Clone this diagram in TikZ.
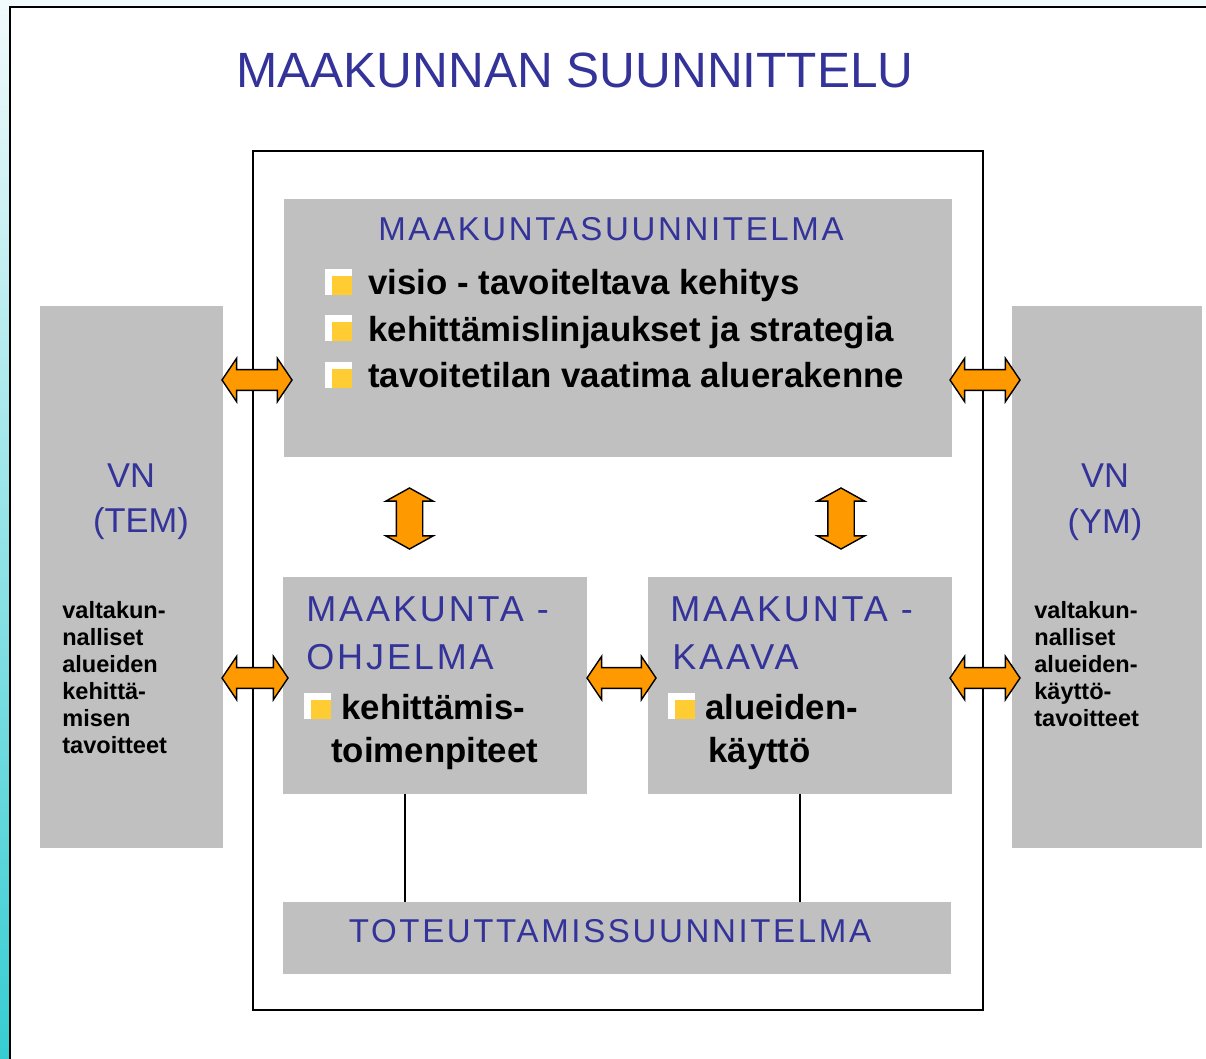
\documentclass[tikz,border=0pt]{standalone}
\usepackage{fontspec}
\setmainfont{Liberation Sans}
\newfontfamily\spacedfont[LetterSpace=8]{Liberation Sans}
\usetikzlibrary{shapes.arrows,calc,positioning}

\definecolor{titleblue}{HTML}{333399}
\definecolor{boxgray}{HTML}{C0C0C0}
\definecolor{arroworange}{HTML}{FF9900}
\definecolor{bulletyellow}{HTML}{FFCC33}
\definecolor{stripcyan}{HTML}{36CDD2}
\definecolor{stripfaint}{HTML}{F2FAFC}

\newcommand{\pxu}{0.02cm}

\begin{document}
\begin{tikzpicture}[x=0.02cm, y=-0.02cm,
    graybox/.style={rectangle, fill=boxgray, inner sep=0pt},
    heading/.style={text=titleblue, inner sep=0pt, font=\spacedfont\fontsize{18.8}{22}\selectfont},
    subhead/.style={text=titleblue, inner sep=0pt, font=\spacedfont\fontsize{20.5}{24}\selectfont},
    vnlabel/.style={text=titleblue, inner sep=0pt, font=\fontsize{19.6}{23}\selectfont},
    bullettext/.style={inner sep=0pt, font=\fontsize{19.8}{24}\selectfont\bfseries},
    smalltext/.style={inner sep=0pt, font=\fontsize{13.4}{16}\selectfont\bfseries},
    harrow/.style={double arrow, draw=black, line width=0.8pt, fill=arroworange,
        inner xsep=0pt, inner ysep=9.7*\pxu, minimum height=70*\pxu,
        double arrow head extend=11.3*\pxu, double arrow tip angle=112},
    varrow/.style={harrow, rotate=90, inner ysep=12.5*\pxu, minimum height=61*\pxu,
        double arrow head extend=10.5*\pxu, double arrow tip angle=122},
    sqbullet/.pic={
        \fill[white] (0,0) rectangle (27,-26);
        \fill[bulletyellow] (7,0) rectangle (27,-19);
    }
]
    % page background and slide frame
    \useasboundingbox (0,0) rectangle (1206,1058);
    \shade[top color=stripfaint, middle color=stripcyan!30!stripfaint, bottom color=stripcyan] (0,0) rectangle (1206,1058);
    \fill[white] (10,7) rectangle (1220,1070);
    \draw[line width=1.7pt] (10,1070) -- (10,7) -- (1220,7);

    \node[text=titleblue, inner sep=0pt, font=\fontsize{28.2}{33}\selectfont, anchor=base] (title) at (575,87) {MAAKUNNAN SUUNNITTELU};

    \node[draw, line width=1.4pt, inner sep=0pt, minimum width=730*\pxu, minimum height=859*\pxu] (frame) at (618,580.5) {};

    % boxes
    \node[graybox, minimum width=668*\pxu, minimum height=258*\pxu] (plan) at (618,328) {};
    \node[graybox, minimum width=183*\pxu, minimum height=542*\pxu] (vnl) at (131.5,577) {};
    \node[graybox, minimum width=190*\pxu, minimum height=542*\pxu] (vnr) at (1107,577) {};
    \node[graybox, minimum width=304*\pxu, minimum height=217*\pxu] (ohj) at (435,685.5) {};
    \node[graybox, minimum width=304*\pxu, minimum height=217*\pxu] (kaava) at (800,685.5) {};
    \node[graybox, minimum width=668*\pxu, minimum height=72*\pxu] (tot) at (617,938) {};

    \coordinate (ohjfoot) at ($(ohj.south)+(-30,0)$);
    \draw[line width=0.8pt] (ohjfoot) -- (ohjfoot |- tot.north);
    \draw[line width=0.8pt] (kaava.south) -- (kaava.south |- tot.north);

    % arrows
    \node[harrow] (a1) at (257,380) {};
    \node[harrow] (a2) at (985,380) {};
    \node[harrow, minimum height=66*\pxu] (a3) at (255,678) {};
    \node[harrow, minimum height=69*\pxu] (a4) at (621.5,678) {};
    \node[harrow] (a5) at (985,678) {};
    \node[varrow] (a6) at (409.5,518.5) {};
    \node[varrow] (a7) at (841,518.5) {};

    % maakuntasuunnitelma
    \node[heading, anchor=base] (planhead) at (611,240) {MAAKUNTASUUNNITELMA};
    \foreach \txt [count=\i] in {visio - tavoiteltava kehitys, kehittämislinjaukset ja strategia, tavoitetilan vaatima aluerakenne} {
        \pic at (325,248+46.5*\i) {sqbullet};
        \node[bullettext, anchor=base west] (planitem\i) at (368,248+46.5*\i) {\txt};
    }

    % maakuntaohjelma
    \node[subhead, anchor=base west] (ohjhead1) at (306,621) {MAAKUNTA -};
    \node[subhead, anchor=base west] (ohjhead2) at (306,669) {OHJELMA};
    \pic at (304,719) {sqbullet};
    \node[bullettext, anchor=base west] (ohjitem1) at (341,719) {kehittämis-};
    \node[bullettext, anchor=base west] (ohjitem2) at (331,762) {toimenpiteet};

    % maakuntakaava
    \node[subhead, anchor=base west] (kaavahead1) at (670,621) {MAAKUNTA -};
    \node[subhead, anchor=base west] (kaavahead2) at (672,669) {KAAVA};
    \pic at (668,719) {sqbullet};
    \node[bullettext, anchor=base west] (kaavaitem1) at (705,719) {alueiden-};
    \node[bullettext, anchor=base west] (kaavaitem2) at (708,762) {käyttö};

    \node[heading, anchor=base] (tothead) at (610,942) {TOTEUTTAMISSUUNNITELMA};

    % valtioneuvosto
    \node[vnlabel, anchor=base] (temvn) at (131,487) {VN};
    \node[vnlabel, anchor=base] (temname) at (141,532) {(TEM)};
    \foreach \txt [count=\i] in {valtakun-, nalliset, alueiden, kehittä-, misen, tavoitteet}
        \node[smalltext, anchor=base west] (temitem\i) at (62,591+27*\i) {\txt};

    \node[vnlabel, anchor=base] (ymvn) at (1105,487) {VN};
    \node[vnlabel, anchor=base] (ymname) at (1105,533) {(YM)};
    \foreach \txt [count=\i] in {valtakun-, nalliset, alueiden-, käyttö-, tavoitteet}
        \node[smalltext, anchor=base west] (ymitem\i) at (1034,591+27*\i) {\txt};
\end{tikzpicture}
\end{document}
